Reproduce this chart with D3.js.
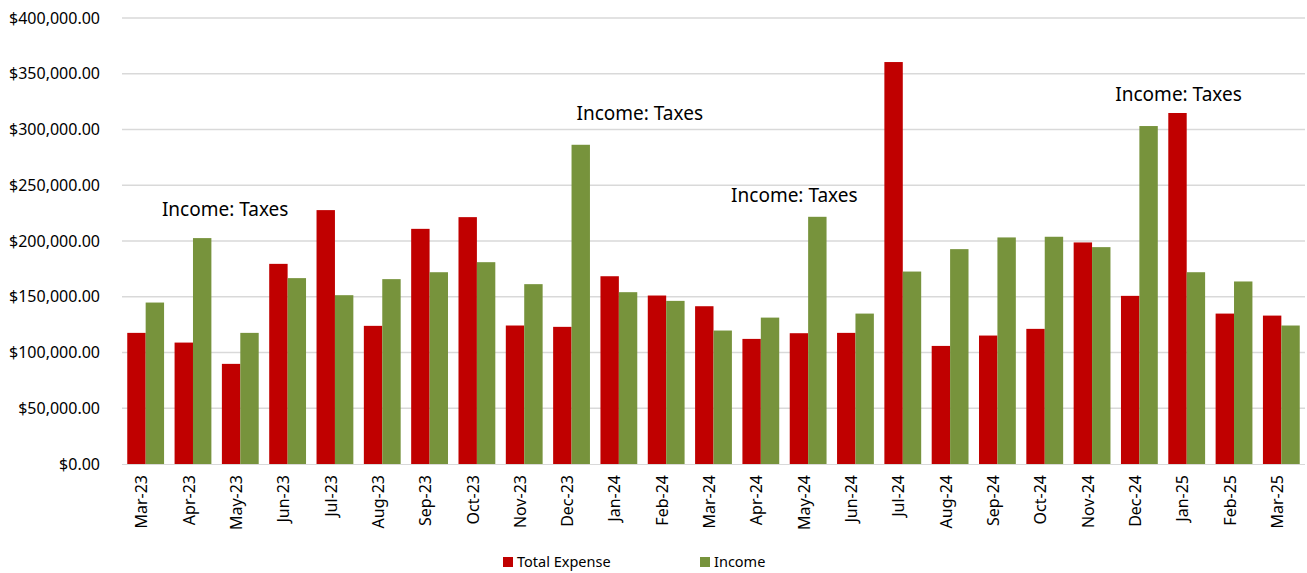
<!DOCTYPE html>
<html>
<head>
<meta charset="utf-8">
<style>
    body { margin: 0; background: #fff; }
    svg, .axis { font-family: 'Noto Sans', 'Open Sans', sans-serif; }
    .y.axis .domain, .y.axis .tick line { display: none; }
    .x.axis .tick line { display: none; }
    .x.axis .domain { stroke: #d9d9d9; }
    .grid line { stroke: #d9d9d9; stroke-width: 1.3; }
</style>
</head>
<body>
<svg width="1307" height="573"></svg>
<script src="https://d3js.org/d3.v7.min.js"></script>
<script>
    // data
    const months = ["Mar-23", "Apr-23", "May-23", "Jun-23", "Jul-23", "Aug-23", "Sep-23", "Oct-23",
        "Nov-23", "Dec-23", "Jan-24", "Feb-24", "Mar-24", "Apr-24", "May-24", "Jun-24", "Jul-24",
        "Aug-24", "Sep-24", "Oct-24", "Nov-24", "Dec-24", "Jan-25", "Feb-25", "Mar-25"];
    const totalExpense = [117600, 108900, 89800, 179500, 227700, 123900, 210900, 221400,
        124200, 123000, 168400, 151100, 141500, 112200, 117300, 117600, 360500,
        105900, 115200, 121200, 198700, 150800, 314800, 134900, 133100];
    const income = [144800, 202600, 117600, 166700, 151400, 165800, 172000, 181000,
        161300, 286300, 154100, 146300, 119700, 131300, 221700, 134900, 172600,
        192700, 203200, 203800, 194500, 303100, 172000, 163700, 124200];
    const seriesNames = ["Total Expense", "Income"];
    const yTicks = [0, 50000, 100000, 150000, 200000, 250000, 300000, 350000, 400000];
    const annotMonths = ["Apr-23", "Dec-23", "May-24", "Dec-24"];
    const annotValues = [222000, 308100, 234900, 325200];
    const annotText = "Income: Taxes";

    const colors = ["#c00000", "#77933c"];
    const width = 1307, height = 573;
    const margin = { top: 18, right: 2, bottom: 109, left: 122 };
    const svg = d3.select("svg");

    const x = d3.scaleBand()
        .domain(months)
        .range([margin.left, width - margin.right])
        .paddingInner(0.222)
        .paddingOuter(0.111);

    const xInner = d3.scaleBand()
        .domain(seriesNames)
        .range([0, x.bandwidth()]);

    const y = d3.scaleLinear()
        .domain([0, 400000])
        .range([height - margin.bottom, margin.top]);

    // gridlines
    svg.append("g")
        .attr("class", "grid")
        .selectAll("line")
        .data(yTicks.slice(1))
        .join("line")
        .attr("x1", margin.left)
        .attr("x2", width - margin.right)
        .attr("y1", d => y(d))
        .attr("y2", d => y(d));

    svg.append("g")
        .attr("class", "y axis")
        .attr("transform", `translate(${margin.left - 22},0)`)
        .call(d3.axisLeft(y).tickValues(yTicks).tickSize(0).tickPadding(0)
            .tickFormat(d => "$" + d3.format(",.2f")(d)))
        .selectAll("text")
        .attr("font-size", 16)
        .attr("fill", "#000");

    const rows = months.map((m, i) => ({ month: m, values: [totalExpense[i], income[i]] }));

    const groups = svg.append("g")
        .selectAll("g")
        .data(rows)
        .join("g")
        .attr("transform", d => `translate(${x(d.month)},0)`);

    groups.selectAll("rect")
        .data(d => d.values.map((v, j) => ({ name: seriesNames[j], value: v, j: j })))
        .join("rect")
        .attr("x", d => xInner(d.name))
        .attr("width", xInner.bandwidth())
        .attr("y", d => y(d.value))
        .attr("height", d => y(0) - y(d.value))
        .attr("fill", d => colors[d.j]);

    const xAxis = svg.append("g")
        .attr("class", "x axis")
        .attr("transform", `translate(0,${y(0)})`)
        .call(d3.axisBottom(x).tickSize(0).tickSizeOuter(0));
    xAxis.select(".domain").attr("d", `M${margin.left},0.5H${width - margin.right}`);
    xAxis.selectAll("text")
        .attr("font-size", 16)
        .attr("fill", "#000")
        .attr("text-anchor", "end")
        .attr("transform", "rotate(-90)")
        .attr("x", -11)
        .attr("y", -4)
        .attr("dy", "0.35em");

    // annotations
    const annotDx = [23, 59, -23, 30];
    svg.append("g")
        .selectAll("text")
        .data(annotMonths)
        .join("text")
        .attr("x", (d, i) => x(d) + x.bandwidth() * 0.75 + annotDx[i])
        .attr("y", (d, i) => y(annotValues[i]))
        .attr("text-anchor", "middle")
        .attr("font-size", 19)
        .attr("fill", "#000")
        .text(annotText);

    // legend
    const legend = svg.append("g").attr("transform", "translate(503,562)");
    const legendX = [0, 197];
    const items = legend.selectAll("g")
        .data(seriesNames)
        .join("g")
        .attr("transform", (d, i) => `translate(${legendX[i]},0)`);
    items.append("rect")
        .attr("x", 0).attr("y", -5)
        .attr("width", 10).attr("height", 10)
        .attr("fill", (d, i) => colors[i]);
    items.append("text")
        .attr("x", 14)
        .attr("dy", "0.35em")
        .attr("font-size", 14.5)
        .attr("fill", "#000")
        .text(d => d);
</script>
</body>
</html>
